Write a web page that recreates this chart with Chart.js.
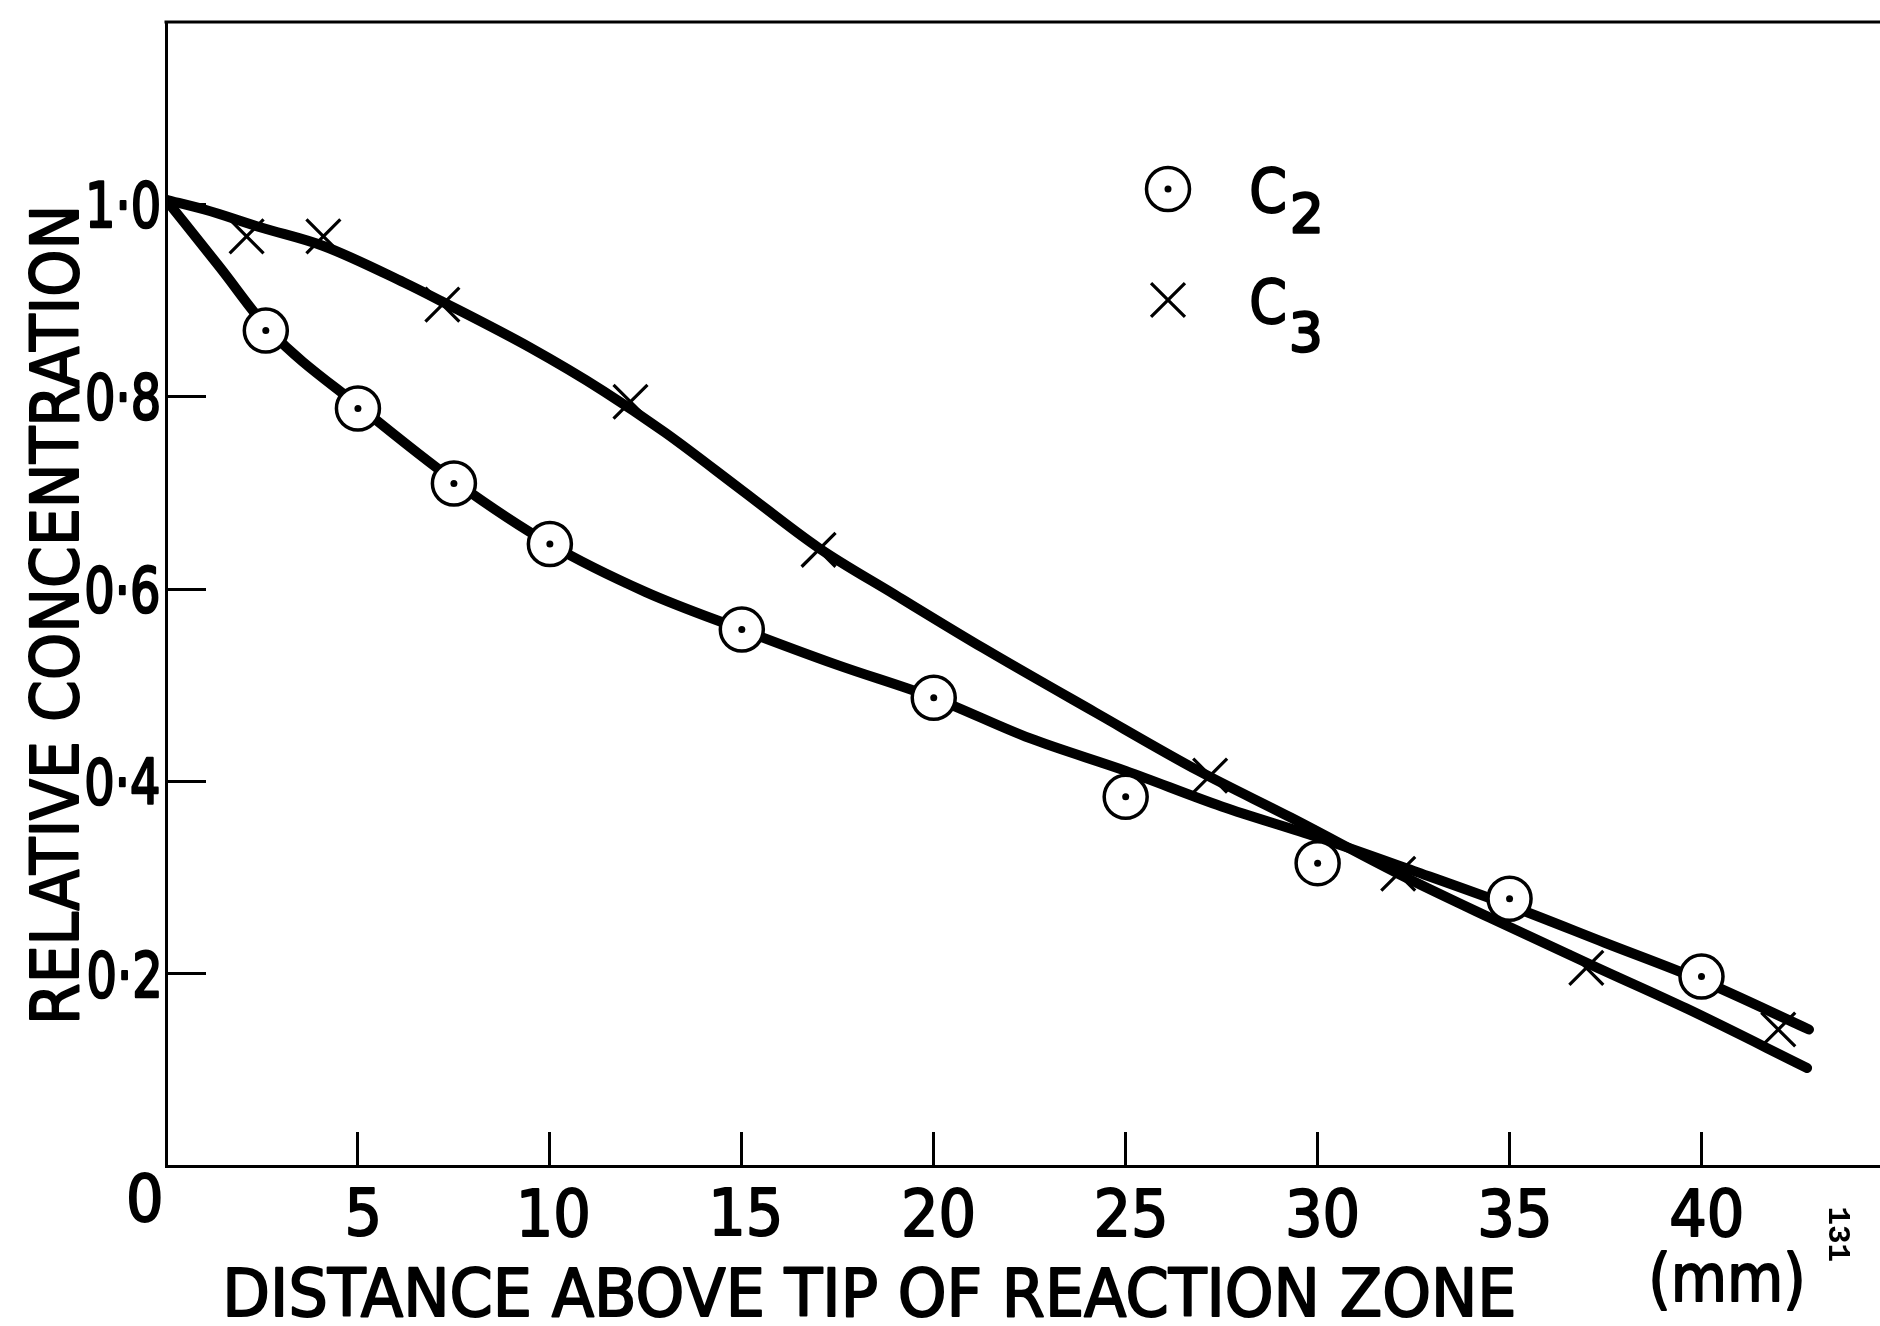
<!DOCTYPE html>
<html>
<head>
<meta charset="utf-8">
<title>Relative concentration of C2 and C3</title>
<script src="https://cdn.jsdelivr.net/npm/chart.js"></script>
<style>
  html, body { margin: 0; padding: 0; background: #ffffff; }
  #wrap { width: 1880px; height: 1326px; }
</style>
</head>
<body>
<div id="wrap"><canvas id="chart" width="1880" height="1326"></canvas></div>
<script>
// ---- axis ticks and text ----
const xTickValues = [5, 10, 15, 20, 25, 30, 35, 40];
const xTickLabels = ['5', '10', '15', '20', '25', '30', '35', '40'];
const yTickValues = [0.2, 0.4, 0.6, 0.8, 1.0];
const yTickLabels = ['0·2', '0·4', '0·6', '0·8', '1·0'];
const originLabel = '0';
const xTitle = 'DISTANCE ABOVE TIP OF REACTION ZONE';
const xUnit = '(mm)';
const yTitle = 'RELATIVE CONCENTRATION';
const seriesNames = ['C', 'C'];
const seriesSubscripts = ['2', '3'];
const plateNumber = '131';

// ---- measured points (distance in mm, relative concentration) ----
const c2X = [2.6, 5, 7.5, 10, 15, 20, 25, 30, 35, 40];
const c2Y = [0.869, 0.788, 0.710, 0.647, 0.558, 0.487, 0.384, 0.315, 0.278, 0.197];
const c3X = [2.1, 4.1, 7.2, 12.1, 17.0, 27.2, 32.1, 37.0, 42.0];
const c3Y = [0.967, 0.967, 0.896, 0.795, 0.641, 0.406, 0.304, 0.206, 0.142];

// ---- hand-faired curves through the measurements ----
const c2CurveX = [0, 1.4, 2.7, 5.1, 7.6, 10, 12.5, 15, 17.5, 20, 22.5, 25, 27.5, 30, 32.5, 35, 37.5, 40, 42.8];
const c2CurveY = [1.005, 0.935, 0.869, 0.788, 0.710, 0.647, 0.597, 0.558, 0.521, 0.487, 0.445, 0.411, 0.374, 0.342, 0.307, 0.271, 0.232, 0.193, 0.142];
const c3CurveX = [0, 1.0, 2.5, 4.1, 6.2, 7.2, 9.5, 11.4, 13.0, 15.0, 17.0, 19.0, 21.3, 24.2, 26.9, 29.3, 32.1, 34.5, 37.3, 39.6, 42.75];
const c3CurveY = [1.005, 0.995, 0.976, 0.957, 0.919, 0.899, 0.851, 0.806, 0.763, 0.703, 0.643, 0.594, 0.5385, 0.472, 0.411, 0.3625, 0.304, 0.258, 0.206, 0.164, 0.102];

const toXY = (xs, ys) => xs.map((x, i) => ({ x: x, y: ys[i] }));

const INK = '#000000';
const FONT = '"DejaVu Sans", "Liberation Sans", Arial, sans-serif';

// Draw text positioned by its ink box, optionally squeezed to a given ink width
// and thickened with an outline of the same colour.
function drawInk(ctx, str, font, x, y, o) {
  o = o || {};
  ctx.save();
  ctx.font = font;
  ctx.textAlign = 'left';
  ctx.textBaseline = 'alphabetic';
  ctx.fillStyle = INK;
  ctx.strokeStyle = INK;
  ctx.lineJoin = 'round';
  const m = ctx.measureText(str);
  const l = m.actualBoundingBoxLeft, r = m.actualBoundingBoxRight;
  const a = m.actualBoundingBoxAscent, d = m.actualBoundingBoxDescent;
  const w = l + r;
  const sx = o.width ? o.width / w : (o.sx || 1);
  ctx.translate(x, y);
  if (o.rot) ctx.rotate(o.rot);
  ctx.scale(sx, 1);
  let dx = l;
  if (o.align === 'center') dx = l - w / 2;
  else if (o.align === 'right') dx = l - w;
  let dy = (a - d) / 2;
  if (o.valign === 'bottom') dy = -d;
  else if (o.valign === 'top') dy = a;
  ctx.fillText(str, dx, dy);
  if (o.bold) {
    ctx.lineWidth = o.bold;
    ctx.strokeText(str, dx, dy);
  }
  ctx.restore();
}

function inkWidth(ctx, str, font) {
  ctx.save();
  ctx.font = font;
  const m = ctx.measureText(str);
  ctx.restore();
  return m.actualBoundingBoxLeft + m.actualBoundingBoxRight;
}

const circleStyle = { pointStyle: 'circle', radius: 21.5, borderWidth: 3.5, rotation: 0 };
const dotStyle = { pointStyle: 'circle', radius: 3.5, borderWidth: 0, rotation: 0 };
const crossStyle = { pointStyle: 'crossRot', radius: 24, borderWidth: 3.2, rotation: 0 };

const decorations = {
  id: 'decorations',
  afterDraw(chart) {
    const ctx = chart.ctx;
    const area = chart.chartArea;
    const xs = chart.scales.x, ys = chart.scales.y;

    // frame top edge
    ctx.save();
    ctx.strokeStyle = INK;
    ctx.lineWidth = 3;
    ctx.beginPath();
    ctx.moveTo(area.left - 1.5, area.top);
    ctx.lineTo(area.right, area.top);
    ctx.stroke();
    ctx.restore();

    // y tick labels
    const yFont = '63px ' + FONT;
    const ySx = 70 / inkWidth(ctx, '0·8', yFont);
    yTickValues.forEach((v, i) => {
      drawInk(ctx, yTickLabels[i], yFont, area.left - 8, ys.getPixelForValue(v),
        { align: 'right', sx: ySx, bold: 2.5 });
    });

    // x tick labels
    const xFont = '64px ' + FONT;
    const xSx = 69 / inkWidth(ctx, '40', xFont);
    xTickValues.forEach((v, i) => {
      drawInk(ctx, xTickLabels[i], xFont, xs.getPixelForValue(v) + 5, area.bottom + 46,
        { align: 'center', sx: xSx, bold: 2 });
    });
    drawInk(ctx, originLabel, xFont, area.left - 21, area.bottom + 31, { align: 'center', sx: xSx, bold: 2 });

    // axis titles
    const tFont = '66px ' + FONT;
    drawInk(ctx, xTitle, tFont, area.left + 62, area.bottom + 126, { align: 'left', width: 1285, bold: 2 });
    drawInk(ctx, xUnit, tFont, area.left + 1561, area.bottom + 114, { align: 'center', width: 149, bold: 2 });
    drawInk(ctx, yTitle, tFont, area.left - 112, area.bottom - 551, { align: 'center', width: 809, rot: -Math.PI / 2, bold: 2 });

    // key
    const keyX = area.left + 1002;
    const keyRows = [area.top + 167, area.top + 278];
    const markers = [[circleStyle, dotStyle], [crossStyle]];
    keyRows.forEach((ky, i) => {
      markers[i].forEach(st => {
        ctx.save();
        ctx.strokeStyle = INK;
        ctx.fillStyle = st === circleStyle ? '#ffffff' : INK;
        ctx.lineWidth = st.borderWidth;
        Chart.helpers.drawPoint(ctx, st, keyX, ky);
        ctx.restore();
      });
      const cFont = '60px ' + FONT;
      drawInk(ctx, seriesNames[i], cFont, keyX + 84, ky + 1, { align: 'left', sx: 0.9, bold: 2 });
      drawInk(ctx, seriesSubscripts[i], '53px ' + FONT, keyX + 125, ky + 44 + i * 8,
        { align: 'left', valign: 'bottom', bold: 2.5 });
    });

    // plate number in the margin
    drawInk(ctx, plateNumber, 'bold 31px "Liberation Mono", "DejaVu Sans Mono", monospace',
      area.right - 41, area.bottom + 69, { align: 'center', rot: Math.PI / 2 });
  }
};

const axisCommon = {
  type: 'linear',
  display: true,
  border: { display: true, color: INK, width: 3 },
  ticks: { display: false },
};

new Chart(document.getElementById('chart'), {
  type: 'scatter',
  data: {
    datasets: [
      {
        label: 'C2 curve',
        data: toXY(c2CurveX, c2CurveY),
        showLine: true,
        borderColor: INK,
        borderWidth: 10,
        borderCapStyle: 'round',
        borderJoinStyle: 'round',
        cubicInterpolationMode: 'monotone',
        pointRadius: 0,
        fill: false,
        order: 5
      },
      {
        label: 'C3 curve',
        data: toXY(c3CurveX, c3CurveY),
        showLine: true,
        borderColor: INK,
        borderWidth: 10,
        borderCapStyle: 'round',
        borderJoinStyle: 'round',
        cubicInterpolationMode: 'monotone',
        pointRadius: 0,
        fill: false,
        order: 5
      },
      {
        label: 'C2',
        data: toXY(c2X, c2Y),
        pointStyle: circleStyle.pointStyle,
        pointRadius: circleStyle.radius,
        pointBorderWidth: circleStyle.borderWidth,
        pointBackgroundColor: '#ffffff',
        pointBorderColor: INK,
        order: 3
      },
      {
        label: 'C2 centre',
        data: toXY(c2X, c2Y),
        pointStyle: dotStyle.pointStyle,
        pointRadius: dotStyle.radius,
        pointBorderWidth: 0,
        pointBackgroundColor: INK,
        pointBorderColor: INK,
        order: 2
      },
      {
        label: 'C3',
        data: toXY(c3X, c3Y),
        pointStyle: crossStyle.pointStyle,
        pointRadius: crossStyle.radius,
        pointBorderWidth: crossStyle.borderWidth,
        pointBackgroundColor: INK,
        pointBorderColor: INK,
        order: 1
      }
    ]
  },
  options: {
    responsive: false,
    animation: false,
    devicePixelRatio: 1,
    events: [],
    layout: { autoPadding: false, padding: { top: 22, right: 0, bottom: 0, left: 0 } },
    plugins: { legend: { display: false }, tooltip: { enabled: false } },
    scales: {
      x: Object.assign({}, axisCommon, {
        position: 'bottom',
        min: 0,
        max: 44.65,
        grid: { display: true, drawOnChartArea: false, drawTicks: true, tickLength: -34, tickWidth: 3, tickColor: INK, color: INK, lineWidth: 3 },
        afterBuildTicks: s => { s.ticks = xTickValues.map(v => ({ value: v })); },
        afterFit: s => { s.height = 160; }
      }),
      y: Object.assign({}, axisCommon, {
        position: 'left',
        min: 0,
        max: 1.19,
        grid: { display: true, drawOnChartArea: false, drawTicks: true, tickLength: -40, tickWidth: 3, tickColor: INK, color: INK, lineWidth: 3 },
        afterBuildTicks: s => { s.ticks = yTickValues.map(v => ({ value: v })); },
        afterFit: s => { s.width = 166; }
      })
    }
  },
  plugins: [decorations]
});
</script>
</body>
</html>
